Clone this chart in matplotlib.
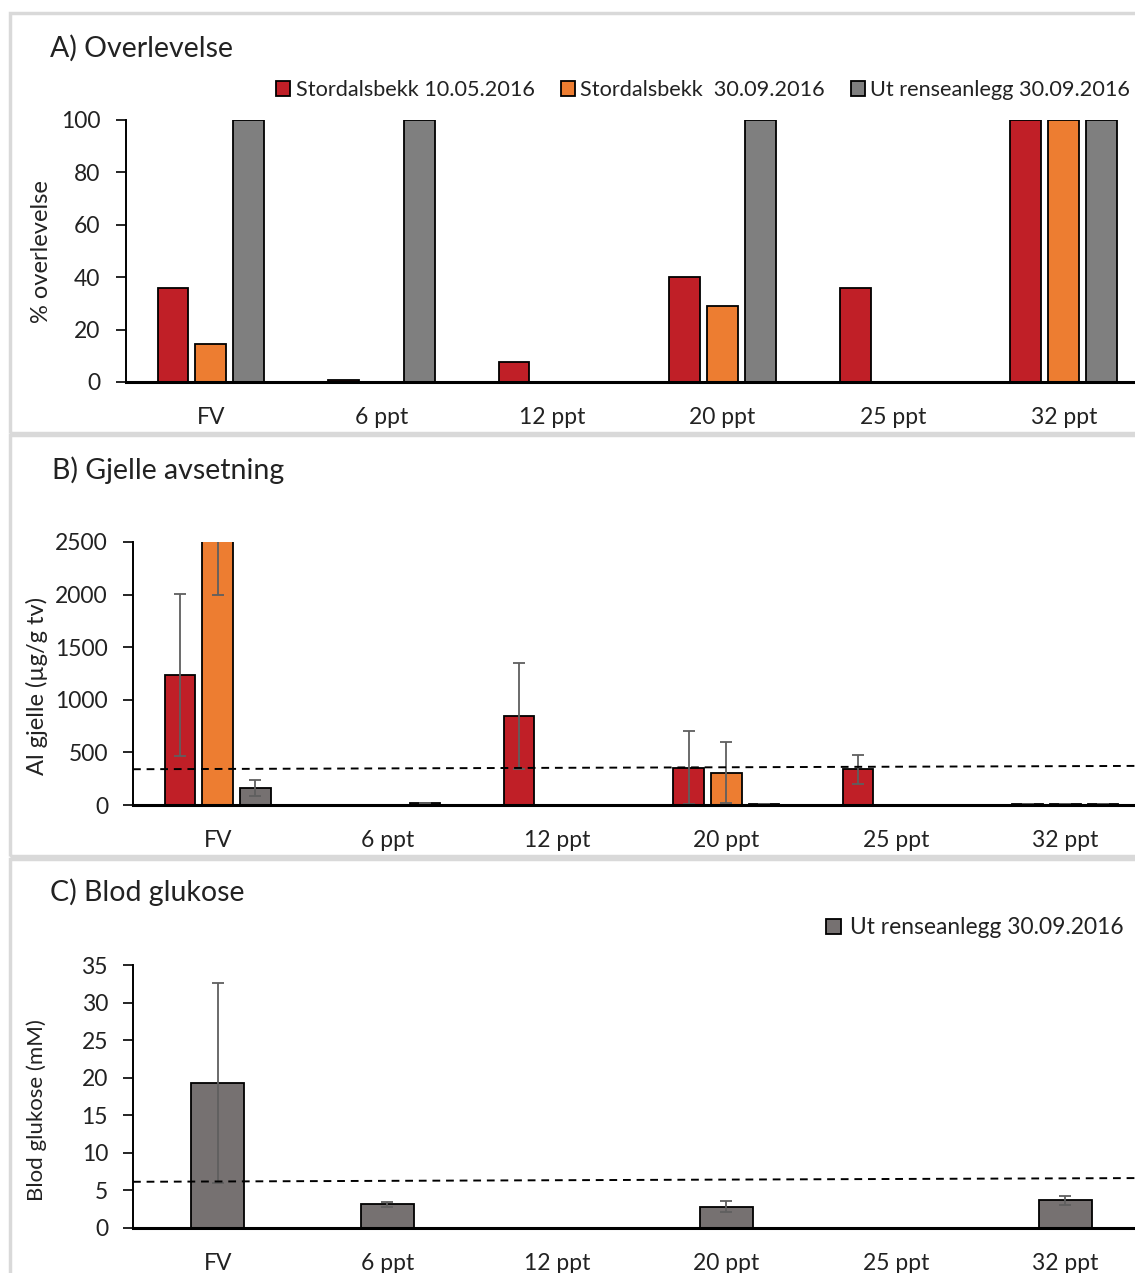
import numpy as np
import matplotlib.pyplot as plt
from matplotlib.patches import Rectangle

plt.rcParams['font.family'] = ['Lato', 'DejaVu Sans']

categories = ["FV", "6 ppt", "12 ppt", "20 ppt", "25 ppt", "32 ppt"]
series_names = ["Stordalsbekk 10.05.2016", "Stordalsbekk  30.09.2016", "Ut renseanlegg 30.09.2016"]

# A) survival (%)
surv_mai = [36, 0.7, 7.7, 40, 36, 100]
surv_sep = [14.5, 0, 0, 29, 0, 100]
surv_ut = [100, 100, 0, 100, 0, 100]

# B) Al on gills (ug/g dw), mean and sd
al_mai = [1236, np.nan, 849, 355, 339, 10]
al_mai_err = [770, np.nan, 505, 348, 138, 0]
al_sep = [2850, np.nan, np.nan, 307, np.nan, 10]
al_sep_err = [850, np.nan, np.nan, 292, np.nan, 0]
al_ut = [165, 15, np.nan, 10, np.nan, 10]
al_ut_err = [77, 3, np.nan, 0, np.nan, 0]
al_ref = [340, 372]

# C) blood glucose (mM)
glu_ut = [19.25, 3.15, np.nan, 2.8, np.nan, 3.66]
glu_ut_err = [13.3, 0.35, np.nan, 0.73, np.nan, 0.66]
glu_ref = [6.15, 6.65]

red = "#C01F27"
orange = "#ED7D31"
grey_a = "#7F7F7F"
grey_c = "#767171"
err_col = "#5F5F5F"
txt = "#222222"

W, H = 1135, 1273
fig = plt.figure(figsize=(W / 100, H / 100), dpi=100)

def px_axes(left, top, right, bottom):
    return fig.add_axes([left / W, 1 - bottom / H, (right - left) / W, (bottom - top) / H])

# light grey panel frames
for top, bottom in [(13, 433), (435, 856), (859, 1290)]:
    fig.patches.append(Rectangle((10 / W, 1 - bottom / H), 1.2, (bottom - top) / H,
                                 transform=fig.transFigure, fill=False,
                                 edgecolor="#D9D9D9", linewidth=2.5, zorder=0))

tick_fs = 16.5
leg_fs = 15.6
lab_fs = 17
title_fs = 20.5

def style(ax, ymax, step):
    x = np.arange(len(categories))
    ax.set_xlim(-0.5, 5.5)
    ax.set_ylim(0, ymax)
    ax.set_yticks(np.arange(0, ymax + step / 2, step))
    ax.set_xticks(x)
    ax.set_xticklabels(categories)
    for s in ["top", "right"]:
        ax.spines[s].set_visible(False)
    ax.spines["bottom"].set_linewidth(2.2)
    ax.spines["left"].set_linewidth(1.4)
    ax.tick_params(axis="x", length=0, pad=18, labelsize=tick_fs, colors=txt)
    ax.tick_params(axis="y", length=7, width=1.2, pad=11, labelsize=tick_fs, colors=txt)
    ax.tick_params(axis="y", color="black")
    ax.patch.set_alpha(0)

x = np.arange(len(categories))
bw = 0.18
off = 0.222

# ---- A
axA = px_axes(125.5, 120, 1149, 382)
for vals, c, d, lab in [(surv_mai, red, -off, series_names[0]),
                        (surv_sep, orange, 0, series_names[1]),
                        (surv_ut, grey_a, off, series_names[2])]:
    axA.bar(x + d, vals, bw, color=c, edgecolor="black", linewidth=1.3, label=lab)
style(axA, 100, 20)
fig.text(41 / W, 1 - 252 / H, "% overlevelse", rotation=90, fontsize=lab_fs,
         color=txt, ha="center", va="center")
fig.text(50 / W, 1 - 48 / H, "A) Overlevelse", fontsize=title_fs, va="center", color=txt)
fig.legend(*axA.get_legend_handles_labels(), loc="center right",
           bbox_to_anchor=(1141 / W, 1 - 90 / H), ncol=3, frameon=False,
           fontsize=leg_fs, handlelength=0.65, handleheight=0.65,
           handletextpad=0.25, columnspacing=1.2, borderpad=0, labelcolor=txt)

# ---- B
axB = px_axes(133, 542, 1150, 805)
ekw = dict(ecolor=err_col, elinewidth=1.3, capsize=4.5, capthick=1.3)
for vals, errs, c, d in [(al_mai, al_mai_err, red, -off),
                         (al_sep, al_sep_err, orange, 0),
                         (al_ut, al_ut_err, grey_c, off)]:
    axB.bar(x + d, vals, bw, color=c, edgecolor="black", linewidth=1.3,
            yerr=errs, error_kw=ekw)
axB.plot([-0.5, 5.5], al_ref, linestyle=(0, (4, 3)), color="black", linewidth=1.4, zorder=5)
style(axB, 2500, 500)
fig.text(36.5 / W, 1 - 686 / H, "Al gjelle (µg/g tv)", rotation=90, fontsize=lab_fs,
         color=txt, ha="center", va="center")
fig.text(52 / W, 1 - 470 / H, "B) Gjelle avsetning", fontsize=title_fs, va="center", color=txt)

# ---- C
axC = px_axes(133, 965, 1150, 1228)
axC.bar(x, glu_ut, 0.31, color=grey_c, edgecolor="black", linewidth=1.3,
        yerr=glu_ut_err, error_kw=ekw, label=series_names[2])
axC.plot([-0.5, 5.5], glu_ref, linestyle=(0, (4, 3)), color="black", linewidth=1.4, zorder=5)
style(axC, 35, 5)
fig.text(36.5 / W, 1 - 1110 / H, "Blod glukose (mM)", rotation=90, fontsize=16,
         color=txt, ha="center", va="center")
fig.text(50 / W, 1 - 892 / H, "C) Blod glukose", fontsize=title_fs, va="center", color=txt)
fig.legend(*axC.get_legend_handles_labels(), loc="center right",
           bbox_to_anchor=(1135 / W, 1 - 928 / H), frameon=False,
           fontsize=16.4, handlelength=0.65, handleheight=0.65,
           handletextpad=0.4, borderpad=0, labelcolor=txt)

fig.savefig("out.png", dpi=100)
